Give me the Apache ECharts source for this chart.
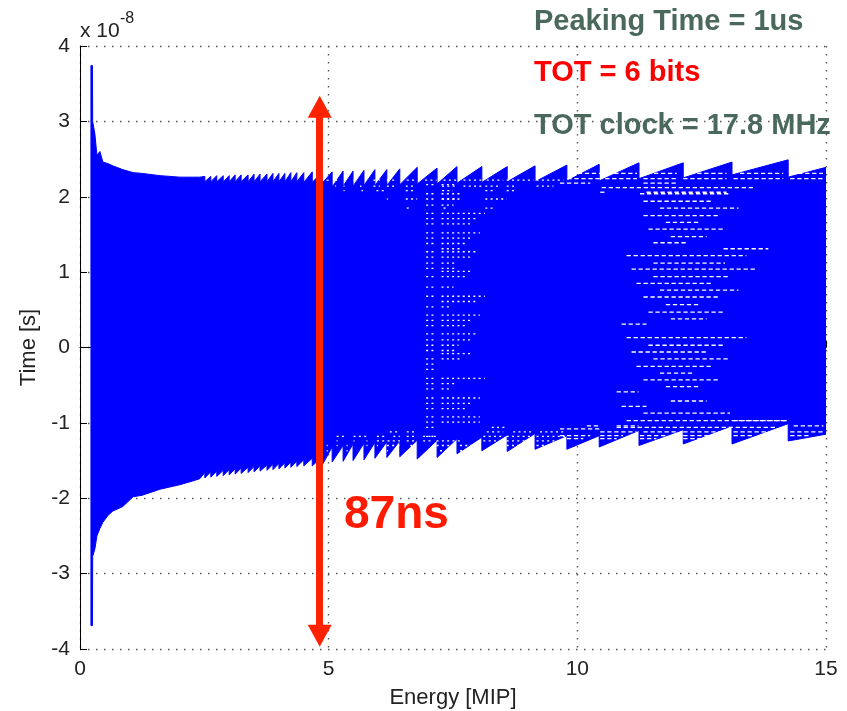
<!DOCTYPE html>
<html>
<head>
<meta charset="utf-8">
<title>Time walk vs energy</title>
<script src="https://cdn.jsdelivr.net/npm/echarts@6/dist/echarts.min.js"></script>
<style>
html, body { margin: 0; padding: 0; background: #fff; }
#chart { width: 847px; height: 711px; }
</style>
</head>
<body>
<div id="chart"></div>
<script>
// axis ticks (time in units of 1e-8 s)
var xTicks = [0, 5, 10, 15];
var yTicks = [-4, -3, -2, -1, 0, 1, 2, 3, 4];

// envelope of the band before the sawtooth starts
var headX     = [0.22, 0.25, 0.255, 0.30, 0.34, 0.40, 0.46, 0.56, 0.66, 0.86, 1.07, 1.25, 1.61, 2.01, 2.27, 2.41];
var headUpper = [3.74, 3.74, 3.00, 2.83, 2.55, 2.60, 2.46, 2.44, 2.41, 2.36, 2.32, 2.31, 2.28, 2.26, 2.26, 2.26];
var headLower = [-3.69, -3.69, -2.77, -2.67, -2.50, -2.40, -2.32, -2.23, -2.17, -2.11, -1.98, -1.96, -1.88, -1.82, -1.77, -1.74];

// sawtooth: energy where each tooth drops, value just before / just after the drop
var toothX      = [2.51, 2.63, 2.75, 2.88, 3.00, 3.12, 3.24, 3.38, 3.50, 3.62, 3.76, 3.88, 4.00, 4.12, 4.24, 4.36, 4.50, 4.67, 4.87, 5.07, 5.29, 5.49, 5.71, 5.93, 6.17, 6.43, 6.78, 7.18, 7.58, 8.08, 8.59, 9.15, 9.79, 10.44, 11.24, 12.13, 13.11, 14.24];
var upperPeak   = [2.27, 2.27, 2.28, 2.28, 2.28, 2.29, 2.29, 2.29, 2.30, 2.30, 2.30, 2.31, 2.31, 2.31, 2.32, 2.32, 2.32, 2.33, 2.33, 2.33, 2.34, 2.34, 2.35, 2.36, 2.36, 2.37, 2.39, 2.38, 2.40, 2.40, 2.40, 2.41, 2.42, 2.43, 2.45, 2.45, 2.46, 2.49];
var upperValley = [2.20, 2.20, 2.20, 2.20, 2.20, 2.20, 2.20, 2.20, 2.20, 2.20, 2.20, 2.20, 2.20, 2.20, 2.20, 2.20, 2.19, 2.19, 2.18, 2.13, 2.14, 2.14, 2.15, 2.15, 2.15, 2.16, 2.17, 2.17, 2.18, 2.19, 2.20, 2.20, 2.21, 2.21, 2.24, 2.25, 2.29, 2.26];
var lowerTop    = [-1.66, -1.65, -1.64, -1.63, -1.62, -1.61, -1.60, -1.59, -1.58, -1.57, -1.56, -1.55, -1.54, -1.53, -1.52, -1.51, -1.49, -1.47, -1.45, -1.32, -1.30, -1.28, -1.27, -1.26, -1.25, -1.24, -1.23, -1.23, -1.21, -1.19, -1.16, -1.14, -1.17, -1.17, -1.10, -1.09, -1.04, -1.01];
var lowerBottom = [-1.73, -1.72, -1.71, -1.70, -1.69, -1.68, -1.67, -1.66, -1.65, -1.64, -1.63, -1.62, -1.61, -1.60, -1.59, -1.58, -1.57, -1.57, -1.56, -1.52, -1.51, -1.50, -1.49, -1.47, -1.46, -1.45, -1.48, -1.46, -1.41, -1.37, -1.38, -1.35, -1.35, -1.32, -1.30, -1.28, -1.28, -1.24];
var endX = 15, endUpper = 2.39, endLower = -1.15;

// white dotted gaps inside the band, column near 7 MIP
var gapA1Y = [2.16, 2.04, 1.97, 1.89, 1.78, 1.71, 1.64, 1.52, 1.45, 1.38, 1.27, 1.20, 1.12, 1.05, 0.94, 0.80, 0.68, 0.54, 0.43, 0.36, 0.29, 0.18, 0.10, 0.03, -0.04, -0.15, -0.22, -0.29, -0.41, -0.48, -0.55, -0.67, -0.74, -0.81, -0.92, -0.99, -1.06, -1.18];
var gapA2Y   = [2.16, 2.04, 1.97, 1.89, 1.78, 1.71, 1.64, 1.52, 1.45, 1.38, 1.31, 1.27, 1.20, 1.12, 1.05, 1.01, 0.94, 0.80, 0.68, 0.61, 0.54, 0.43, 0.36, 0.29, 0.18, 0.10, 0.03, -0.04, -0.08, -0.15, -0.41, -0.48, -0.55, -0.67, -0.74, -0.81, -0.92, -0.99];
var gapA2End = [7.57, 7.64, 7.64, 7.51, 8.14, 7.98, 7.84, 8.04, 7.91, 7.78, 7.64, 7.98, 7.84, 7.57, 7.57, 7.91, 7.78, 7.51, 8.14, 7.98, 7.44, 8.04, 7.91, 7.78, 7.98, 7.84, 7.61, 7.57, 7.91, 7.64, 8.14, 7.57, 7.44, 8.04, 7.91, 7.78, 8.04, 8.04];
// white dashed gaps, region near 12 MIP
var gapBY     = [2.12, 2.04, 1.94, 1.85, 1.75, 1.66, 1.57, 1.47, 1.39, 1.31, 1.22, 1.12, 1.04, 0.94, 0.85, 0.76, 0.67, 0.57, 0.47, 0.38, 0.31, 0.13, 0.03, -0.06, -0.15, -0.25, -0.34, -0.43, -0.52, -0.59, -0.71, -0.78, -0.87, -0.97, -1.06];
var gapBStart = [10.49, 11.26, 11.33, 11.66, 11.33, 11.78, 11.43, 11.88, 11.53, 12.94, 10.99, 11.53, 11.09, 11.53, 11.19, 11.66, 11.33, 11.78, 11.43, 11.88, 10.89, 10.99, 11.43, 11.09, 11.53, 11.19, 11.66, 11.33, 11.78, 10.79, 11.88, 10.89, 11.33, 10.99, 10.79];
var gapBEnd   = [13.57, 13.07, 12.73, 13.24, 12.87, 12.47, 12.97, 12.60, 12.23, 13.84, 13.40, 12.97, 13.57, 13.07, 12.73, 13.24, 12.87, 12.47, 12.97, 12.60, 11.39, 13.40, 12.97, 12.60, 13.07, 12.73, 12.36, 12.87, 12.47, 11.23, 12.60, 11.39, 13.07, 14.21, 14.01];

// dotted rows just under the upper teeth (5 - 9.7 MIP)
var gapCY = [2.22, 2.14, 2.08, 1.97, 1.85];
var gapCSpans = [
  [[4.96, 5.02], [5.13, 5.19], [5.50, 5.53], [5.73, 5.76], [5.90, 6.03], [6.17, 6.37], [6.57, 6.74], [6.94, 7.17], [7.31, 7.57], [7.71, 8.08], [8.18, 8.51], [8.58, 9.12], [9.18, 9.72]],
  [[5.13, 5.15], [5.30, 5.32], [5.63, 5.66], [5.90, 6.03], [6.17, 6.37], [6.55, 6.72], [7.28, 7.57], [7.71, 8.08], [8.15, 8.45], [8.58, 8.78], [9.18, 9.52]],
  [[5.30, 5.32], [5.66, 5.69], [5.96, 6.17], [6.55, 6.72], [7.28, 7.50], [8.15, 8.30], [8.58, 8.78]],
  [[6.17, 6.19], [6.55, 6.78], [7.28, 7.57], [8.15, 8.58]],
  [[6.57, 6.64], [7.31, 7.38], [8.15, 8.30]]
];
// dashed rows under the upper teeth (9.6 - 15 MIP)
var gapDY = [2.31, 2.24, 2.18, 2.06];
var gapDSpans = [
  [[10.01, 10.46], [10.60, 11.20], [11.40, 12.00], [12.27, 13.00], [13.27, 14.14], [14.44, 14.94]],
  [[9.80, 10.46], [10.56, 11.20], [11.33, 12.00], [12.13, 13.00], [13.14, 14.14], [14.28, 14.94]],
  [[9.65, 10.26], [11.33, 12.00]],
  [[10.46, 10.60], [11.39, 13.00]]
];
// dotted rows above the lower teeth (5 - 9.8 MIP)
var gapEY = [-1.06, -1.12, -1.18, -1.24, -1.30, -1.37];
var gapESpans = [
  [[8.28, 8.55]],
  [[6.23, 6.43], [6.57, 6.74], [8.18, 8.51], [8.71, 9.12], [9.25, 9.78]],
  [[5.16, 5.36], [5.50, 5.76], [5.97, 6.17], [6.30, 6.43], [6.57, 6.77], [6.90, 7.17], [8.11, 8.51], [8.58, 9.12], [9.18, 9.78]],
  [[5.16, 5.18], [5.50, 5.52], [5.76, 5.78], [5.97, 6.43], [6.57, 6.74], [6.90, 7.10], [7.17, 7.64], [8.11, 8.45], [8.58, 8.98], [9.18, 9.72]],
  [[4.96, 4.98], [5.16, 5.18], [5.36, 5.38], [5.76, 5.78], [5.97, 5.99], [6.17, 6.43], [6.64, 6.74], [7.17, 7.57], [7.64, 7.97], [8.58, 8.85], [9.18, 9.45]],
  [[4.96, 4.98], [5.36, 5.38], [5.86, 5.88], [6.17, 6.19], [6.37, 6.39], [7.24, 7.50], [7.64, 7.84]]
];
// dashed rows above the lower teeth (9.6 - 15 MIP)
var gapFY = [-0.97, -1.04, -1.08, -1.12, -1.17, -1.21];
var gapFSpans = [
  [[13.14, 14.21]],
  [[10.19, 10.46], [10.79, 11.23], [14.35, 14.95]],
  [[9.65, 10.46]],
  [[10.46, 11.19], [11.33, 12.00], [12.13, 13.07], [13.14, 14.01], [14.28, 14.95]],
  [[9.65, 10.26], [10.46, 10.92], [11.26, 11.80], [12.13, 12.67], [13.14, 13.54], [14.28, 14.68]],
  [[9.79, 10.12], [10.46, 10.79], [11.26, 11.59], [12.13, 12.47]]
];

// 87ns arrow (energy position, tip to tip)
var arrowX = 4.82, arrowTop = 3.34, arrowBottom = -3.97;

var upperPath = [], lowerPath = [];
headX.forEach(function (x, i) {
  upperPath.push([x, headUpper[i]]);
  lowerPath.push([x, headLower[i]]);
});
toothX.forEach(function (x, i) {
  upperPath.push([x, upperPeak[i]], [x, upperValley[i]]);
  lowerPath.push([x, lowerTop[i]], [x, lowerBottom[i]]);
});
upperPath.push([endX, endUpper]);
lowerPath.push([endX, endLower]);

// gap segments: [x0, x1, y, style]  style 0 = dots, 1 = dashes
var gapData = [];
gapA1Y.forEach(function (y) { gapData.push([6.96, 7.14, y, 0]); });
gapA2Y.forEach(function (y, i) { gapData.push([7.27, gapA2End[i], y, 0]); });
gapBY.forEach(function (y, i) { gapData.push([gapBStart[i], gapBEnd[i], y, 1]); });
function addRows(ys, spans, style) {
  ys.forEach(function (y, i) {
    spans[i].forEach(function (s) { gapData.push([s[0], s[1], y, style]); });
  });
}
addRows(gapCY, gapCSpans, 0);
addRows(gapDY, gapDSpans, 1);
addRows(gapEY, gapESpans, 0);
addRows(gapFY, gapFSpans, 1);

var fontName = '"Liberation Sans", Arial, sans-serif';
var headHalf = 11 / 75.4; // half of arrow head, in axis units

var myChart = echarts.init(document.getElementById('chart'));
myChart.setOption({
  animation: false,
  grid: { left: 80, right: 21, top: 46, bottom: 62, outerBoundsMode: 'none' },
  xAxis: {
    type: 'value',
    min: xTicks[0],
    max: xTicks[xTicks.length - 1],
    interval: 5,
    name: 'Energy [MIP]',
    nameLocation: 'middle',
    nameGap: 38,
    nameTextStyle: { fontFamily: fontName, fontSize: 22, color: '#222' },
    axisLine: { lineStyle: { color: '#000', width: 1 } },
    axisTick: { inside: true, length: 7, lineStyle: { color: '#000' } },
    axisLabel: { fontFamily: fontName, fontSize: 21, color: '#222', margin: 10 },
    splitLine: { show: true, lineStyle: { color: '#555', width: 1.4, type: [1.5, 6.5] } }
  },
  yAxis: {
    type: 'value',
    min: yTicks[0],
    max: yTicks[yTicks.length - 1],
    interval: 1,
    name: 'Time [s]',
    nameLocation: 'middle',
    nameGap: 35,
    nameRotate: 90,
    nameTextStyle: { fontFamily: fontName, fontSize: 22, color: '#222' },
    axisLine: { show: true, lineStyle: { color: '#000', width: 1 } },
    axisTick: { show: true, inside: true, length: 7, lineStyle: { color: '#000' } },
    axisLabel: { fontFamily: fontName, fontSize: 21, color: '#222', margin: 10 },
    splitLine: { show: true, lineStyle: { color: '#555', width: 1.4, type: [1.5, 6.5] } }
  },
  series: [
    {
      // the blue band between upper and lower envelope
      type: 'custom',
      silent: true,
      clip: true,
      z: 2,
      data: [[0, 0]],
      renderItem: function (params, api) {
        var pts = upperPath.map(function (p) { return api.coord(p) })
          .concat(lowerPath.slice().reverse().map(function (p) { return api.coord(p) }));
        return { type: 'polygon', shape: { points: pts }, style: { fill: '#0000ff', stroke: '#0000ff', lineWidth: 1 } };
      }
    },
    {
      // white gaps inside the band
      type: 'custom',
      silent: true,
      clip: true,
      z: 3,
      encode: { x: [0, 1], y: 2 },
      data: gapData,
      renderItem: function (params, api) {
        var a = api.coord([api.value(0), api.value(2)]);
        var b = api.coord([api.value(1), api.value(2)]);
        var dash = api.value(3) === 1 ? [4.3, 2.7] : [2, 3.3];
        return {
          type: 'line',
          shape: { x1: a[0], y1: a[1], x2: b[0], y2: b[1] },
          style: { stroke: '#ffffff', lineWidth: 1.3, lineDash: dash }
        };
      },
      markLine: {
        silent: true,
        symbol: ['triangle', 'triangle'],
        symbolSize: [24, 22],
        label: { show: false },
        lineStyle: { color: '#ff2200', width: 7, type: 'solid', opacity: 1 },
        emphasis: { disabled: true },
        data: [[{ coord: [arrowX, arrowTop - headHalf] }, { coord: [arrowX, arrowBottom + headHalf] }]]
      }
    }
  ],
  graphic: [
    {
      type: 'text', x: 80, y: 31, z: 10,
      style: { text: 'x 10', font: '21px ' + fontName, fill: '#222', verticalAlign: 'middle' }
    },
    {
      type: 'text', x: 120, y: 19, z: 10,
      style: { text: '-8', font: '16px ' + fontName, fill: '#222', verticalAlign: 'middle' }
    },
    {
      type: 'text', x: 534, y: 22, z: 10,
      style: { text: 'Peaking Time = 1us', font: 'bold 29px ' + fontName, fill: '#4a695c', verticalAlign: 'middle' }
    },
    {
      type: 'text', x: 534, y: 73, z: 10,
      style: { text: 'TOT = 6 bits', font: 'bold 29px ' + fontName, fill: '#ff0000', verticalAlign: 'middle' }
    },
    {
      type: 'text', x: 534, y: 126, z: 10,
      style: { text: 'TOT clock = 17.8 MHz', font: 'bold 29px ' + fontName, fill: '#4a695c', verticalAlign: 'middle' }
    },
    {
      type: 'text', x: 344, y: 515, z: 10,
      style: { text: '87ns', font: 'bold 46px ' + fontName, fill: '#ff1a00', verticalAlign: 'middle' }
    }
  ]
});
</script>
</body>
</html>
